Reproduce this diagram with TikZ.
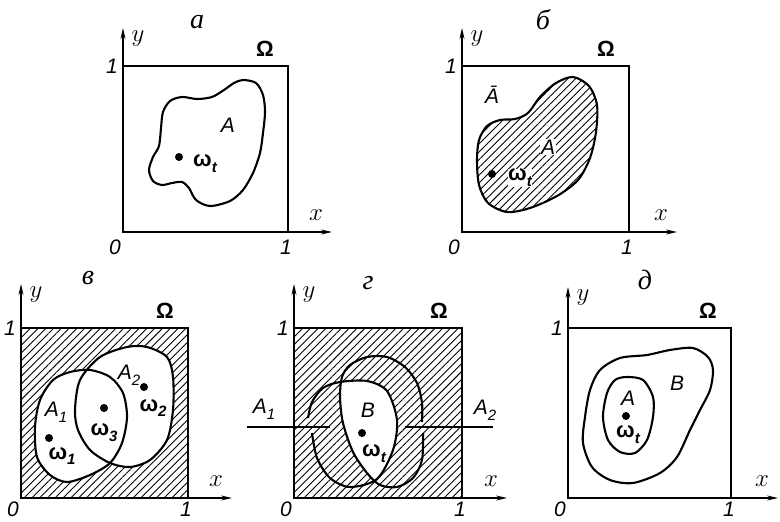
\documentclass[tikz,border=0pt]{standalone}
\usepackage{fontspec}
\usetikzlibrary{arrows.meta,positioning,patterns.meta}
\newfontfamily\cyrfont{Liberation Serif}
\newfontfamily\lblfont{Liberation Sans}
\newcommand{\lowix}[1]{\raisebox{-0.5ex}{\fontsize{15}{15}\selectfont\itshape #1}}
\newcommand{\blobVone}{plot[smooth cycle] coordinates {(40,400) (35,427) (37,457) (50,475) (67,482) (90,475) (110,463) (122,443) (127,417) (123,393) (110,377) (90,370) (70,372) (53,380)}}
\newcommand{\blobVtwo}{plot[smooth cycle] coordinates {(80,380) (100,357) (127,347) (147,347) (167,357) (173,377) (173,410) (167,440) (150,460) (130,467) (110,463) (90,450) (78,430) (75,410)}}
\newcommand{\blobGone}{plot[smooth cycle] coordinates {(308,418) (312,402) (323,388) (340,382) (367,381) (387,391) (397,420) (393,450) (377,479) (350,487) (330,478) (317,458) (312,433)}}
\newcommand{\blobGtwo}{plot[smooth cycle] coordinates {(422,422) (422,403) (417,383) (405,367) (387,357) (367,357) (350,365) (342,377) (340,397) (343,423) (353,452) (367,473) (380,485) (397,487) (413,478) (422,460) (423,433)}}
\tikzset{
	frame/.style={line width=2.8pt},
	axis/.style={line width=1.2pt, -{Stealth[length=11pt, width=5pt]}},
	contour/.style={line width=2.1pt},
	leader/.style={line width=1.4pt},
	hatch/.style={pattern={Lines[angle=45, distance=5.5pt, line width=0.9pt]}},
	lbl/.style={font=\lblfont\itshape\fontsize{21}{21}\selectfont, inner sep=1pt},
	grk/.style={font=\lblfont\bfseries\fontsize{22}{22}\selectfont, inner sep=1pt},
	mth/.style={font=\fontsize{28}{28}\selectfont, inner sep=0pt},
	title/.style={font=\cyrfont\itshape\fontsize{28}{28}\selectfont, inner sep=0pt},
	spot/.style={circle, fill, inner sep=0pt, minimum size=8pt}
}

\begin{document}
\begin{tikzpicture}[x=1pt, y=-1pt]
	\useasboundingbox (0,0) rectangle (780,522);
	% axes and scale marks of every panel
	\foreach \p/\ox/\oy/\w/\h/\xt/\yt/\ly in {a/123/232/165/166/332/28/15, b/462/232/167/166/677/28/15, v/21/498/167/170/232/284/11, g/294/498/168/170/507/284/11, d/568/498/163/170/778/287/11} {
		\coordinate (o\p) at (\ox,\oy);
		\coordinate (xt\p) at (\xt,\oy);
		\coordinate (yt\p) at (\ox,\yt);
		\draw[axis] (o\p) -- (xt\p);
		\draw[axis] (o\p) -- (yt\p);
		\node[mth] (x\p) at ([shift={(-16,-17)}]xt\p) {$x$};
		\node[mth] (y\p) at ([shift={(15,11)}]yt\p) {$y$};
		\node[lbl] (zero\p) at ([shift={(-8,\ly)}]o\p) {0};
		\node[lbl] (one\p) at ([shift={(\w-2,\ly)}]o\p) {1};
		\node[lbl] (top\p) at ([shift={(-11,-\h)}]o\p) {1};
		\node[grk] (om\p) at ([shift={(\w-23,-\h-17)}]o\p) {Ω};
	}
	\node[title] (ta) at (197,22) {а};
	\node[title] (tb) at (543,20) {б};
	\node[title] (tv) at (88,278) {в};
	\node[title] (tg) at (368,283) {г};
	\node[title] (td) at (645,280) {д};

	% a
	\draw[contour] plot[smooth cycle] coordinates {(243,80) (256,83) (263,95) (265,112) (263,133) (260,153) (253,173) (243,190) (230,201) (210,206) (196,200) (189,188) (182,182) (172,183) (162,185) (153,181) (149,170) (153,157) (159,146) (161,128) (163,112) (170,101) (182,97) (197,99) (212,97) (224,90) (234,83)};
	\node[lbl] (Aa) at (228,125) {A};
	\node[spot] (wa) at (179,157) {};
	\node[grk] (wla) at (205,164) {ω\lowix{t}};

	% b
	\draw[contour, hatch] plot[smooth cycle] coordinates {(573,77) (589,86) (597,105) (596,132) (590,158) (578,180) (557,196) (530,208) (507,212) (488,203) (479,185) (477,160) (479,140) (487,126) (500,120) (515,119) (528,113) (540,97) (556,83)};
	\node[lbl] (Abar) at (492,95) {\={A}};
	\node[lbl, fill=white] (Ab) at (548,147) {A};
	\node[spot] (wb) at (492,174) {};
	\node[grk, fill=white, inner sep=0pt] (wlb) at (520,178) {ω\lowix{t}};

	% v
	\fill[hatch] (ov) rectangle ++(167,-170);
	\fill[white] \blobVone;
	\fill[white] \blobVtwo;
	\draw[contour] \blobVone;
	\draw[contour] \blobVtwo;
	\node[lbl] (A1v) at (56,412) {A\lowix{1}};
	\node[spot] (w1) at (49,438) {};
	\node[grk] (wl1) at (62,456) {ω\lowix{1}};
	\node[spot] (w3) at (104,408) {};
	\node[grk] (wl3) at (104,433) {ω\lowix{3}};
	\node[lbl] (A2v) at (129,375) {A\lowix{2}};
	\node[spot] (w2) at (144,387) {};
	\node[grk] (wl2) at (153,408) {ω\lowix{2}};

	% g
	\fill[hatch] (og) rectangle ++(168,-170);
	\begin{scope}
		\clip \blobGtwo;
		\fill[white] \blobGone;
	\end{scope}
	\draw[contour] plot[smooth] coordinates {(312,433) (317,458) (330,478) (350,487) (377,479) (393,450) (397,420) (387,391) (367,381) (340,382) (323,388) (312,402) (308,418)};
	\draw[contour] plot[smooth] coordinates {(422,422) (422,403) (417,383) (405,367) (387,357) (367,357) (350,365) (342,377) (340,397) (343,423) (353,452) (367,473) (380,485) (397,487) (413,478) (422,460) (423,433)};
	\coordinate (l1a) at (247,427);
	\coordinate (l1b) at (330,427);
	\coordinate (l2a) at (405,427);
	\coordinate (l2b) at (493,427);
	\draw[leader] (l1a) -- (l1b);
	\draw[leader] (l2a) -- (l2b);
	\node[lbl] (A1g) at (264,409) {A\lowix{1}};
	\node[lbl] (A2g) at (485,410) {A\lowix{2}};
	\node[lbl] (Bg) at (368,410) {B};
	\node[spot] (wg) at (362,433) {};
	\node[grk] (wlg) at (374,454) {ω\lowix{t}};

	% d
	\draw[contour] plot[smooth cycle] coordinates {(693,348) (708,357) (713,370) (710,390) (700,410) (690,430) (677,457) (660,473) (633,483) (610,480) (592,467) (583,443) (585,417) (590,390) (600,370) (620,358) (647,355) (670,350)};
	\draw[contour] plot[smooth cycle] coordinates {(627,377) (643,380) (653,397) (653,417) (647,440) (635,453) (620,452) (608,440) (603,417) (607,393) (615,380)};
	\node[lbl] (Bd) at (677,383) {B};
	\node[lbl] (Ad) at (628,398) {A};
	\node[spot] (wd) at (626,416) {};
	\node[grk] (wld) at (628,435) {ω\lowix{t}};

	% frames
	\foreach \p/\w/\h in {a/165/166, b/167/166, v/167/170, g/168/170, d/163/170}
		\draw[frame] (o\p) rectangle ++(\w,-\h);
\end{tikzpicture}
\end{document}
